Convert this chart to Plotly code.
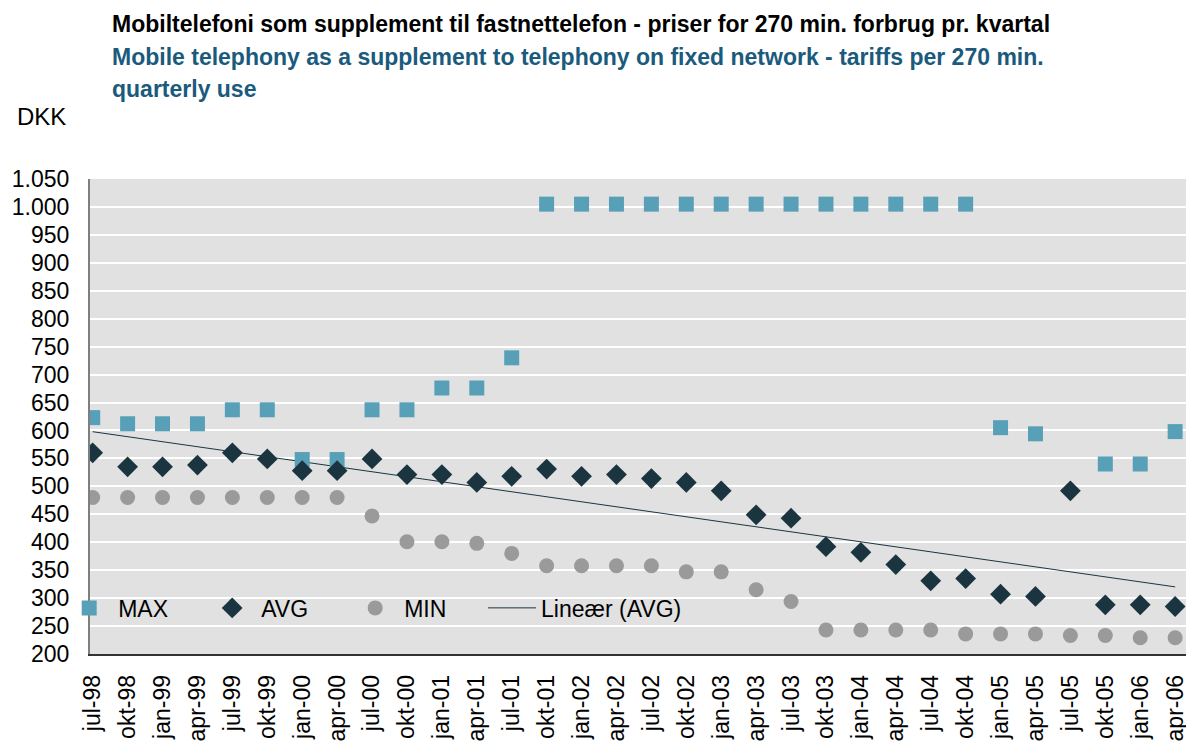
import numpy as np
import plotly.graph_objects as go

categories = ["jul-98", "okt-98", "jan-99", "apr-99", "jul-99", "okt-99", "jan-00", "apr-00",
              "jul-00", "okt-00", "jan-01", "apr-01", "jul-01", "okt-01", "jan-02", "apr-02",
              "jul-02", "okt-02", "jan-03", "apr-03", "jul-03", "okt-03", "jan-04", "apr-04",
              "jul-04", "okt-04", "jan-05", "apr-05", "jul-05", "okt-05", "jan-06", "apr-06"]

max_vals = [623, 612, 612, 612, 637, 637, 548, 548,
            637, 637, 676, 676, 730, 1005, 1005, 1005,
            1005, 1005, 1005, 1005, 1005, 1005, 1005, 1005,
            1005, 1005, 605, 594, None, 540, 540, 598]

avg_vals = [560, 535, 535, 538, 560, 549, 528, 528,
            549, 521, 521, 507, 518, 531, 518, 521,
            514, 507, 492, 449, 443, 392, 382, 360,
            331, 335, 307, 303, 492, 288, 288, 285]

min_vals = [480, 480, 480, 480, 480, 480, 480, 480,
            447, 401, 401, 398, 380, 358, 358, 358,
            358, 347, 347, 315, 294, 243, 243, 243,
            243, 236, 236, 236, 233, 233, 229, 229]

y_ticks = list(range(200, 1051, 50))

x_idx = np.arange(len(categories))
slope, intercept = np.polyfit(x_idx, np.array(avg_vals, dtype=float), 1)
trend = slope * x_idx + intercept

C_MAX = "#58A0B8"
C_AVG = "#1B3540"
C_MIN = "#9A9A9A"
C_SUB = "#1A5A7C"
BG = "#E1E1E1"
FONT = "Liberation Sans, Arial, sans-serif"

fig = go.Figure()
fig.add_trace(go.Scatter(x=x_idx, y=trend, mode="lines", name="Lineær (AVG)", legend="legend2",
                         line=dict(color=C_AVG, width=1)))
fig.add_trace(go.Scatter(x=x_idx, y=max_vals, mode="markers", name="MAX", legendrank=1,
                         marker=dict(symbol="square", size=15, color=C_MAX)))
fig.add_trace(go.Scatter(x=x_idx, y=avg_vals, mode="markers", name="AVG", legendrank=2,
                         marker=dict(symbol="diamond", size=16, color=C_AVG)))
fig.add_trace(go.Scatter(x=x_idx, y=min_vals, mode="markers", name="MIN", legendrank=3,
                         marker=dict(symbol="circle", size=15, color=C_MIN)))

legend_common = dict(orientation="h", yanchor="middle", xanchor="left", y=0.097,
                     bgcolor="rgba(0,0,0,0)", font=dict(size=23), itemwidth=48)

fig.update_layout(
    width=1186, height=738,
    margin=dict(l=82, r=0, t=171, b=92),
    paper_bgcolor="white",
    plot_bgcolor=BG,
    font=dict(family=FONT, size=23, color="black"),
    showlegend=True,
    legend=dict(x=-0.027, traceorder="normal", entrywidth=80, entrywidthmode="pixels",
                **legend_common),
    legend2=dict(x=0.356, **legend_common),
    xaxis=dict(range=[-0.077, 31.54], tickmode="array", tickvals=list(x_idx),
               ticktext=categories, tickangle=-90, showgrid=False, zeroline=False,
               showline=True, linecolor="#333333", linewidth=1.5, ticks="",
               ticklabelstandoff=10, tickfont=dict(size=23)),
    yaxis=dict(range=[200, 1050], tickmode="array", tickvals=y_ticks,
               ticktext=[f"{v:,}".replace(",", ".") for v in y_ticks],
               showgrid=True, gridcolor="white", gridwidth=1.5, zeroline=False,
               showline=True, linecolor="#7F7F7F", linewidth=2, ticks="",
               ticklabelstandoff=14, tickfont=dict(size=23)),
    shapes=[dict(type="rect", xref="paper", yref="y", x0=0, x1=0.56, y0=240, y1=330,
                 fillcolor=BG, line=dict(width=0), layer="between")],
    annotations=[
        dict(text="<b>Mobiltelefoni som supplement til fastnettelefon - priser for 270 min. forbrug pr. kvartal</b>",
             xref="paper", yref="paper", x=0.018, y=1.326, xanchor="left", yanchor="middle",
             showarrow=False, font=dict(size=23, color="black")),
        dict(text="<b>Mobile telephony as a supplement to telephony on fixed network - tariffs per 270 min.</b>",
             xref="paper", yref="paper", x=0.018, y=1.257, xanchor="left", yanchor="middle",
             showarrow=False, font=dict(size=23, color=C_SUB)),
        dict(text="<b>quarterly use</b>",
             xref="paper", yref="paper", x=0.018, y=1.189, xanchor="left", yanchor="middle",
             showarrow=False, font=dict(size=23, color=C_SUB)),
        dict(text="DKK", xref="paper", yref="paper", x=-0.068, y=1.131, xanchor="left",
             yanchor="middle", showarrow=False, font=dict(size=24, color="black")),
    ],
)

fig.write_html("out.html")
